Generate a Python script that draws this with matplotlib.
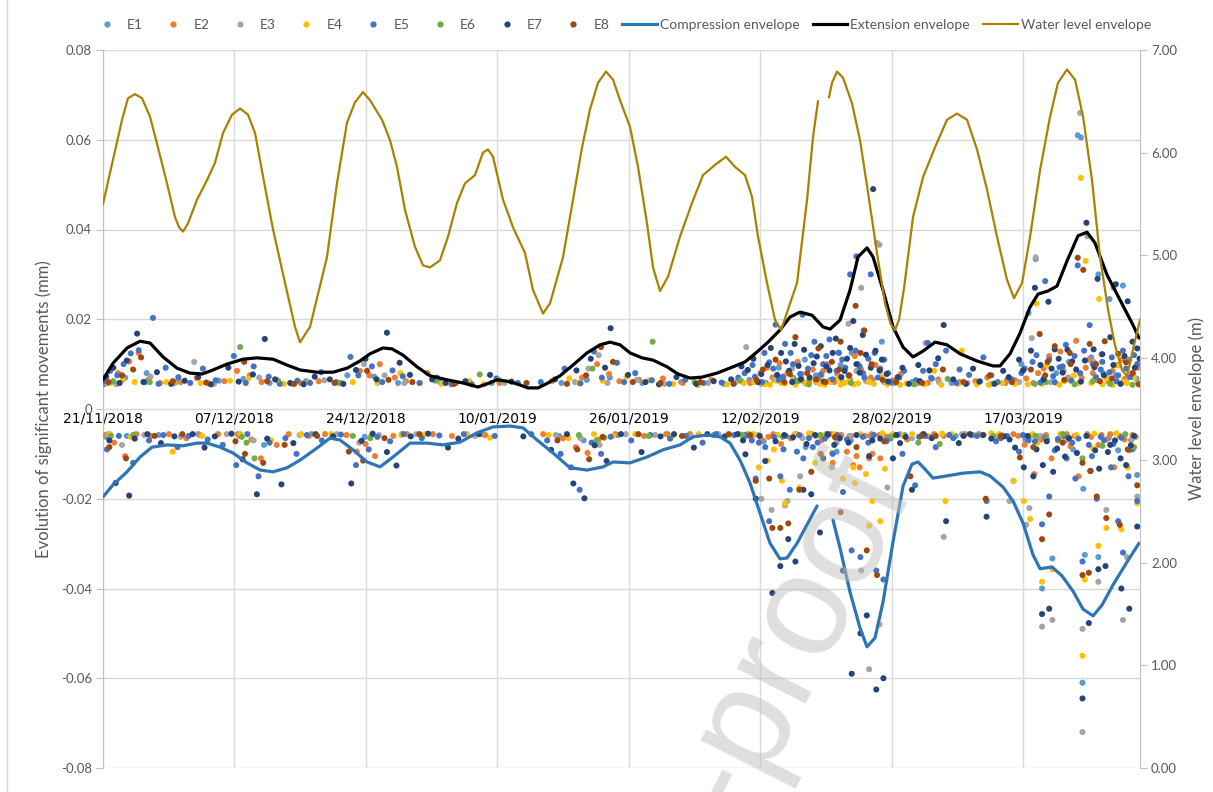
import numpy as np
import matplotlib
matplotlib.use('Agg')
import matplotlib.pyplot as plt
from matplotlib.lines import Line2D

nan = float('nan')

# ---------------- data (x = days since 21/11/2018) ----------------
date_labels = ['21/11/2018', '07/12/2018', '24/12/2018', '10/01/2019',
               '26/01/2019', '12/02/2019', '28/02/2019', '17/03/2019']
series_names = ['E1', 'E2', 'E3', 'E4', 'E5', 'E6', 'E7', 'E8']

E1_pts = [(0.1,.0055),(2.8,.0070),(5.5,.0080),(9.4,.0062),(14.6,.0063),(17.7,.0067),(21.0,.0058),(25.6,.0062),
          (30.8,.0075),(34.2,.0072),(37.2,.0058),(42.5,.0060),(49.0,.0058),(57.8,.0058),(61.0,.0065),(63.9,.0070),
          (68.0,.0058),(72.9,.0060),(78.3,.0056),(81.5,.0065),(83.6,.0058),(85.2,.0092),(87.0,.0070),(88.5,.0110),
          (89.9,.0075),(91.7,.0065),(93.0,.0098),(94.4,.0125),(95.9,.0175),(97.0,.0065),(98.2,.0150),(99.5,.0058),
          (102.0,.0060),(104.4,.0070),(107.0,.0058),(110.6,.0062),(114.0,.0065),(115.8,.0100),(116.7,.0214),
          (117.6,.0334),(118.6,.0068),(120.2,.0080),(121.8,.0105),(122.9,.0610),(123.3,.0605),(124.6,.0115),
          (125.5,.0300),(126.1,.0080),(126.9,.0245),(127.7,.0075),(128.6,.0275),(129.4,.0110),(130.3,.0068),
          (0.4,-.0062),(3.0,-.0060),(7.0,-.0058),(12.0,-.0056),(17.2,-.0060),(20.3,-.0080),(26.3,-.0056),
          (33.0,-.0062),(37.7,-.0056),(47.8,-.0056),(57.5,-.0060),(60.6,-.0070),(64.9,-.0058),(71.2,-.0056),
          (77.0,-.0058),(81.2,-.0060),(83.3,-.0072),(84.9,-.0058),(86.8,-.0065),(88.6,-.0085),(90.9,-.0060),
          (92.5,-.0095),(94.3,-.0070),(96.8,-.0060),(98.8,-.0062),(101.1,-.0058),(104.3,-.0062),(107.5,-.0060),
          (110.4,-.0056),(113.3,-.0058),(114.8,-.0160),(116.3,-.0068),(117.9,-.0070),(118.4,-.0400),
          (119.7,-.0333),(120.9,-.0062),(122.3,-.0090),(123.5,-.0610),(123.6,-.0178),(123.8,-.0325),
          (125.5,-.0330),(126.8,-.0065),(128.0,-.0092),(129.7,-.0068),(130.4,-.0147)]

E2_pts = [(0.6,.0058),(1.9,.0080),(3.3,.0106),(4.5,.0125),(5.7,.0065),(7.2,.0058),(9.8,.0060),(11.8,.0069),
          (13.3,.0057),(15.3,.0062),(16.9,.0085),(18.5,.0075),(20.0,.0060),(22.1,.0062),(24.9,.0058),(27.2,.0062),
          (29.7,.0058),(32.4,.0085),(33.6,.0075),(34.9,.0100),(36.8,.0070),(38.2,.0062),(40.9,.0080),(44.5,.0058),
          (50.0,.0058),(56.6,.0062),(60.4,.0070),(62.3,.0100),(63.8,.0078),(65.1,.0062),(67.6,.0065),(70.6,.0068),
          (73.1,.0058),(76.7,.0065),(80.5,.0062),(82.9,.0080),(84.4,.0070),(85.3,.0102),(86.3,.0080),(87.1,.0064),
          (88.1,.0078),(89.5,.0088),(90.3,.0065),(91.3,.0100),(92.2,.0060),(93.4,.0090),(94.8,.0118),(95.6,.0088),
          (96.8,.0070),(97.4,.0098),(98.6,.0062),(100.6,.0078),(102.8,.0058),(105.3,.0066),(108.0,.0060),
          (111.5,.0070),(113.8,.0058),(116.4,.0068),(117.9,.0080),(119.3,.0118),(120.7,.0128),(121.7,.0070),
          (122.7,.0152),(123.9,.0092),(124.8,.0080),(125.9,.0122),(126.8,.0060),(127.9,.0098),(128.8,.0067),
          (129.9,.0080),
          (81.6,.0058),(83.7,.0092),(85.8,.0070),(87.6,.0105),(89.0,.0062),(90.8,.0085),(92.6,.0078),(94.2,.0065),
          (95.2,.0100),(96.3,.0062),(98.0,.0085),(99.6,.0064),(104.0,.0058),(110.0,.0062),(115.0,.0064),
          (117.3,.0058),(118.6,.0090),(121.1,.0085),(123.4,.0070),(124.3,.0110),(125.4,.0064),(127.3,.0085),
          (128.5,.0110),(130.5,.0092),
          (0.3,-.0058),(1.4,-.0075),(2.8,-.0105),(4.2,-.0056),(6.0,-.0060),(8.3,-.0056),(10.5,-.0065),
          (12.2,-.0058),(14.5,-.0056),(17.0,-.0056),(18.7,-.0068),(19.9,-.0110),(21.9,-.0080),(23.4,-.0056),
          (25.9,-.0060),(28.0,-.0056),(30.7,-.0058),(32.0,-.0095),(33.1,-.0078),(34.3,-.0105),(36.6,-.0060),
          (38.3,-.0056),(41.6,-.0056),(44.0,-.0060),(48.2,-.0058),(55.5,-.0056),(58.0,-.0065),(59.6,-.0085),
          (61.1,-.0098),(62.5,-.0068),(64.6,-.0056),(68.2,-.0060),(71.0,-.0056),(74.0,-.0056),(77.6,-.0058),
          (80.7,-.0060),(82.0,-.0058),(83.0,-.0068),(84.5,-.0056),(85.5,-.0078),(86.7,-.0065),(88.0,-.0060),
          (89.4,-.0056),(90.6,-.0070),(91.8,-.0056),(92.0,-.0120),(92.8,-.0062),(93.8,-.0095),(94.6,-.0125),
          (95.0,-.0105),(95.4,-.0130),(96.1,-.0060),(96.6,-.0110),(97.0,-.0100),(97.9,-.0058),(98.0,-.0110),
          (99.0,-.0062),(101.4,-.0068),(103.5,-.0056),(106.0,-.0060),(108.7,-.0056),(110.8,-.0058),(113.0,-.0062),
          (114.8,-.0056),(116.2,-.0080),(117.4,-.0145),(118.3,-.0068),(119.6,-.0110),(120.8,-.0060),
          (122.0,-.0083),(123.0,-.0150),(124.1,-.0056),(125.5,-.0080),(126.5,-.0068),(127.5,-.0130),
          (128.2,-.0060),(129.4,-.0092),(130.2,-.0062),
          (81.3,-.0056),(83.9,-.0062),(85.0,-.0058),(87.4,-.0056),(89.9,-.0060),(91.2,-.0056),(93.1,-.0058),
          (94.3,-.0060),(96.9,-.0056),(99.5,-.0058),(104.8,-.0056),(109.6,-.0058),(115.4,-.0060),(117.0,-.0060),
          (118.9,-.0058),(120.4,-.0070),(121.5,-.0056),(122.5,-.0060),(124.6,-.0062),(125.9,-.0058),
          (127.0,-.0056),(128.8,-.0068),(129.8,-.0058)]

E3_pts = [(0.3,.0060),(1.7,.0055),(6.0,.0072),(9.1,.0058),(11.5,.0105),(14.0,.0056),(19.7,.0070),(23.8,.0056),
          (27.9,.0064),(32.9,.0100),(35.5,.0075),(38.0,.0058),(43.9,.0055),(50.6,.0058),(59.5,.0060),(61.2,.0090),
          (62.5,.0120),(63.6,.0058),(67.3,.0065),(70.8,.0056),(76.3,.0058),(79.8,.0060),(81.1,.0138),(83.0,.0056),
          (84.6,.0065),(85.8,.0058),(88.0,.0070),(89.9,.0060),(91.4,.0095),(92.7,.0126),(93.2,.0060),(94.0,.0190),
          (95.6,.0270),(96.2,.0063),(97.6,.0370),(97.9,.0366),(98.5,.0060),(99.8,.0058),(102.4,.0056),
          (103.7,.0147),(105.4,.0060),(109.0,.0058),(112.0,.0056),(115.5,.0060),(117.1,.0158),(117.6,.0338),
          (119.5,.0060),(121.8,.0066),(123.2,.0660),(124.1,.0385),(125.1,.0068),(126.5,.0075),(127.4,.0270),
          (128.9,.0062),(130.5,.0058),(86.9,.0090),(90.6,.0075),(95.0,.0085),(120.9,.0090),(124.9,.0105),
          (0.6,-.0056),(2.4,-.0080),(5.2,-.0058),(9.8,-.0062),(15.6,-.0056),(19.0,-.0070),(24.8,-.0058),
          (29.5,-.0056),(32.3,-.0075),(34.8,-.0058),(39.5,-.0056),(46.9,-.0060),(57.1,-.0058),(60.2,-.0065),
          (62.6,-.0080),(65.9,-.0056),(69.6,-.0058),(74.2,-.0062),(77.6,-.0056),(80.2,-.0056),(82.6,-.0058),
          (83.0,-.0200),(84.3,-.0225),(86.0,-.0215),(86.3,-.0205),(87.9,-.0150),(89.1,-.0060),(91.9,-.0130),
          (92.5,-.0075),(95.6,-.0360),(96.6,-.0580),(97.9,-.0480),(98.9,-.0175),(100.5,-.0056),(102.0,-.0065),
          (106.0,-.0285),(108.3,-.0056),(114.3,-.0205),(116.4,-.0258),(116.8,-.0221),(118.2,-.0060),
          (118.4,-.0485),(119.7,-.0470),(121.5,-.0070),(123.5,-.0720),(123.5,-.0490),(125.5,-.0385),
          (126.5,-.0225),(128.6,-.0470),(129.1,-.0330),(129.6,-.0070),(130.4,-.0195),(88.2,-.0065),(94.1,-.0060)]

E4_pts = [(1.0,.0058),(2.5,.0065),(4.0,.0060),(8.0,.0060),(12.3,.0058),(16.0,.0063),(18.3,.0068),(22.8,.0056),
          (26.0,.0060),(31.5,.0060),(34.6,.0058),(37.5,.0080),(40.0,.0058),(42.7,.0056),(46.2,.0062),(48.0,.0055),
          (58.8,.0068),(60.0,.0058),(63.0,.0063),(66.0,.0072),(68.9,.0064),(71.9,.0056),(75.0,.0053),(78.7,.0055),
          (80.8,.0058),(83.4,.0055),(84.9,.0063),(86.0,.0057),(87.0,.0065),(88.6,.0056),(89.8,.0062),(91.0,.0054),
          (92.6,.0068),(93.5,.0058),(94.7,.0055),(95.9,.0078),(97.2,.0056),(98.1,.0072),(101.3,.0057),
          (104.8,.0085),(105.7,.0054),(108.3,.0130),(110.2,.0055),(113.4,.0058),(116.6,.0055),(117.7,.0235),
          (119.0,.0097),(120.1,.0058),(121.2,.0062),(122.4,.0075),(123.3,.0515),(123.9,.0330),(124.6,.0058),
          (125.6,.0245),(126.5,.0068),(127.3,.0054),(128.1,.0097),(129.1,.0058),(130.0,.0070),
          (82.1,.0060),(84.1,.0054),(85.5,.0058),(87.3,.0054),(88.2,.0062),(90.4,.0056),(91.7,.0060),(93.0,.0054),
          (94.0,.0062),(95.2,.0057),(96.6,.0060),(98.9,.0055),(100.5,.0054),(103.6,.0055),(107.8,.0056),
          (111.7,.0054),(115.0,.0056),(118.4,.0056),(120.6,.0054),(123.0,.0058),(126.0,.0055),(128.6,.0060),
          (0.9,-.0056),(3.5,-.0062),(8.8,-.0095),(12.5,-.0060),(17.3,-.0056),(21.2,-.0070),(25.0,-.0056),
          (28.8,-.0056),(33.8,-.0060),(37.6,-.0058),(40.6,-.0056),(45.9,-.0056),(48.8,-.0064),(56.2,-.0058),
          (58.7,-.0065),(61.9,-.0056),(64.3,-.0060),(67.1,-.0056),(71.8,-.0060),(75.1,-.0056),(79.0,-.0058),
          (81.5,-.0056),(82.7,-.0130),(83.8,-.0115),(84.6,-.0090),(85.6,-.0160),(86.0,-.0210),(87.8,-.0175),
          (89.8,-.0120),(90.6,-.0058),(91.9,-.0098),(93.3,-.0155),(94.6,-.0130),(94.8,-.0165),(96.2,-.0145),
          (97.0,-.0205),(96.6,-.0260),(98.0,-.0250),(98.6,-.0133),(99.6,-.0056),(100.9,-.0060),(103.9,-.0060),
          (106.2,-.0205),(107.0,-.0056),(110.0,-.0058),(113.0,-.0056),(114.8,-.0160),(116.1,-.0205),
          (116.9,-.0245),(117.8,-.0075),(118.4,-.0385),(119.7,-.0357),(121.0,-.0065),(123.5,-.0550),
          (123.8,-.0380),(124.8,-.0088),(125.5,-.0305),(126.5,-.0265),(128.4,-.0268),(129.2,-.0130),
          (130.4,-.0210),
          (82.0,-.0056),(85.0,-.0058),(87.2,-.0056),(89.0,-.0054),(92.3,-.0056),(95.5,-.0056),(98.3,-.0054),
          (102.0,-.0056),(105.8,-.0055),(112.0,-.0054),(117.2,-.0056),(120.7,-.0056),(122.7,-.0058),
          (125.0,-.0055),(127.8,-.0054)]

E5_pts = [(0.2,.0062),(0.9,.0085),(1.8,.0075),(2.6,.0100),(3.5,.0124),(4.5,.0131),(5.3,.0060),(6.3,.0203),
          (7.0,.0056),(7.9,.0092),(9.5,.0071),(11.0,.0058),(12.6,.0090),(14.2,.0064),(16.5,.0118),(18.0,.0058),
          (19.0,.0095),(20.9,.0072),(22.3,.0056),(24.5,.0063),(26.1,.0058),(27.5,.0082),(29.4,.0060),(31.2,.0116),
          (32.2,.0075),(33.9,.0095),(35.2,.0060),(36.5,.0086),(37.8,.0073),(39.9,.0058),(42.1,.0070),(44.0,.0056),
          (46.5,.0055),(49.6,.0068),(52.3,.0058),(55.2,.0060),(58.2,.0090),(60.2,.0057),(61.9,.0128),(62.9,.0070),
          (64.8,.0103),(65.7,.0060),(67.1,.0080),(69.2,.0064),(71.4,.0056),(73.4,.0065),(75.7,.0058),(78.0,.0059),
          (80.1,.0070),(81.9,.0098),(83.1,.0060),(84.0,.0104),(84.8,.0188),(85.7,.0072),(86.7,.0125),(87.4,.0063),
          (88.2,.0210),(88.9,.0090),(89.7,.0150),(90.5,.0077),(91.2,.0118),(92.0,.0066),(92.8,.0125),(93.6,.0092),
          (94.2,.0300),(95.0,.0340),(95.8,.0080),(96.5,.0112),(96.8,.0300),(97.7,.0070),(98.5,.0110),(99.4,.0060),
          (101.0,.0085),(102.5,.0064),(104.0,.0147),(104.5,.0068),(106.3,.0130),(107.6,.0058),(109.2,.0076),
          (111.0,.0115),(112.8,.0060),(114.6,.0066),(115.8,.0080),(117.2,.0105),(118.2,.0059),(118.8,.0285),
          (119.8,.0073),(120.6,.0093),(121.4,.0143),(122.1,.0063),(122.9,.0320),(123.7,.0130),(124.4,.0187),
          (125.2,.0071),(126.0,.0105),(126.9,.0082),(127.8,.0062),(128.6,.0130),(129.5,.0071),(130.4,.0100),
          (80.9,.0080),(82.2,.0072),(83.4,.0125),(84.5,.0090),(85.2,.0065),(86.0,.0145),(87.0,.0100),(87.9,.0078),
          (89.3,.0120),(90.0,.0066),(90.8,.0100),(91.6,.0155),(92.5,.0085),(93.2,.0110),(94.0,.0075),(94.9,.0130),
          (95.4,.0095),(96.0,.0070),(97.3,.0125),(98.0,.0090),(99.0,.0080),(100.4,.0070),(103.4,.0085),
          (105.0,.0100),(108.0,.0088),(112.0,.0075),(116.2,.0090),(117.7,.0120),(119.3,.0110),(120.0,.0060),
          (121.0,.0095),(122.5,.0118),(123.2,.0080),(124.8,.0100),(125.8,.0088),(127.2,.0115),(128.0,.0075),
          (129.0,.0090),(130.0,.0120),
          (0.5,-.0090),(2.0,-.0060),(3.8,-.0120),(5.8,-.0070),(7.6,-.0058),(9.4,-.0085),(10.8,-.0060),
          (13.2,-.0068),(15.1,-.0080),(16.8,-.0125),(18.2,-.0056),(19.6,-.0150),(21.0,-.0075),(23.0,-.0065),
          (24.4,-.0100),(25.7,-.0058),(27.6,-.0070),(30.0,-.0057),(31.9,-.0125),(33.5,-.0090),(34.6,-.0062),
          (36.2,-.0072),(37.9,-.0056),(40.2,-.0065),(42.4,-.0059),(45.5,-.0056),(49.4,-.0060),(54.0,-.0056),
          (56.0,-.0070),(57.7,-.0100),(59.0,-.0130),(60.1,-.0180),(61.6,-.0075),(62.8,-.0100),(64.0,-.0062),
          (66.6,-.0070),(69.0,-.0058),(71.5,-.0066),(73.5,-.0060),(75.6,-.0075),(77.3,-.0056),(79.6,-.0058),
          (81.8,-.0070),(82.3,-.0155),(83.5,-.0085),(84.0,-.0250),(85.4,-.0150),(86.1,-.0060),(86.6,-.0180),
          (87.5,-.0095),(88.3,-.0110),(89.0,-.0065),(90.1,-.0075),(91.3,-.0060),(92.0,-.0100),(93.3,-.0185),
          (94.4,-.0315),(95.5,-.0330),(96.5,-.0075),(97.5,-.0360),(98.4,-.0380),(99.3,-.0065),(100.8,-.0100),
          (102.4,-.0170),(103.7,-.0060),(105.0,-.0085),(107.2,-.0065),(109.5,-.0058),(111.4,-.0205),
          (112.6,-.0072),(114.0,-.0060),(115.5,-.0095),(116.7,-.0070),(118.4,-.0257),(119.3,-.0195),
          (120.4,-.0067),(121.5,-.0110),(122.6,-.0155),(123.5,-.0340),(124.3,-.0080),(125.3,-.0200),
          (126.2,-.0070),(127.1,-.0130),(128.0,-.0250),(128.6,-.0320),(129.3,-.0150),(130.4,-.0205),
          (81.0,-.0058),(82.7,-.0075),(84.6,-.0062),(85.8,-.0090),(87.8,-.0058),(89.5,-.0085),(91.0,-.0066),
          (92.6,-.0058),(93.8,-.0068),(95.8,-.0062),(97.2,-.0058),(98.8,-.0072),(100.2,-.0058),(102.9,-.0062),
          (106.7,-.0058),(110.2,-.0060),(113.2,-.0065),(116.0,-.0058),(117.5,-.0072),(118.8,-.0064),
          (120.0,-.0092),(121.2,-.0060),(122.2,-.0075),(123.0,-.0066),(124.7,-.0105),(125.8,-.0062),
          (127.4,-.0078),(128.4,-.0064),(129.8,-.0090)]

E6_pts = [(1.3,.0062),(5.9,.0060),(17.3,.0138),(22.0,.0064),(30.0,.0058),(41.9,.0063),(47.5,.0077),(49.9,.0065),
          (61.7,.0090),(69.3,.0150),(74.6,.0060),(80.3,.0064),(87.6,.0062),(89.0,.0055),(94.3,.0058),(102.3,.0055),
          (106.5,.0067),(112.5,.0058),(117.5,.0056),(118.9,.0060),(122.5,.0055),(124.8,.0062),(127.0,.0056),
          (129.8,.0054),
          (1.0,-.0060),(3.8,-.0058),(17.5,-.0062),(18.1,-.0075),(19.1,-.0110),(31.5,-.0060),(33.7,-.0065),
          (60.0,-.0058),(62.2,-.0070),(63.2,-.0064),(68.8,-.0060),(80.6,-.0058),(85.7,-.0062),(90.4,-.0058),
          (99.4,-.0062),(102.8,-.0075),(105.5,-.0078),(112.3,-.0060),(117.6,-.0060),(119.0,-.0066),
          (121.0,-.0056),(123.5,-.0110),(126.0,-.0082),(128.9,-.0056),(130.0,-.0085)]

E7_pts = [(0.4,.0072),(1.3,.0092),(2.1,.0058),(3.0,.0108),(4.3,.0168),(5.1,.0060),(6.8,.0082),(8.6,.0056),
          (10.3,.0063),(12.0,.0071),(13.6,.0055),(15.8,.0092),(17.1,.0061),(18.9,.0077),(20.4,.0156),(21.7,.0066),
          (23.6,.0058),(25.3,.0055),(26.7,.0072),(28.6,.0066),(30.3,.0056),(31.9,.0087),(33.1,.0112),(34.5,.0066),
          (35.8,.0170),(37.4,.0103),(38.7,.0076),(41.5,.0066),(43.2,.0058),(45.7,.0062),(48.8,.0076),(51.5,.0061),
          (57.0,.0066),(59.7,.0086),(61.5,.0112),(63.3,.0092),(64.0,.0180),(66.2,.0076),(68.4,.0060),(70.1,.0055),
          (72.3,.0071),(74.8,.0056),(77.0,.0062),(79.2,.0066),(81.3,.0087),(82.6,.0060),(84.2,.0136),(85.0,.0076),
          (86.1,.0106),(86.9,.0060),(87.7,.0096),(88.4,.0132),(89.1,.0070),(90.0,.0117),(90.9,.0061),(91.6,.0086),
          (92.4,.0157),(93.1,.0071),(93.8,.0112),(94.6,.0196),(95.4,.0081),(96.2,.0121),(97.1,.0490),(97.9,.0086),
          (99.0,.0061),(100.2,.0071),(101.6,.0056),(103.0,.0062),(104.2,.0086),(106.0,.0187),(107.2,.0066),
          (108.8,.0056),(110.5,.0061),(112.4,.0056),(114.2,.0071),(116.0,.0086),(117.5,.0270),(118.6,.0066),
          (119.2,.0239),(120.0,.0133),(121.0,.0081),(122.2,.0106),(123.3,.0061),(124.0,.0415),(124.9,.0133),
          (125.4,.0290),(126.2,.0075),(127.0,.0160),(127.7,.0278),(128.3,.0056),(129.2,.0240),(130.1,.0092),
          (130.7,.0112),
          (80.5,.0095),(82.0,.0112),(83.0,.0078),(83.8,.0098),(85.5,.0125),(86.5,.0085),(87.2,.0145),(88.0,.0066),
          (89.6,.0102),(90.5,.0140),(91.2,.0095),(92.0,.0125),(93.5,.0085),(94.2,.0136),(95.0,.0100),(95.8,.0165),
          (96.8,.0092),(97.4,.0130),(98.2,.0110),(98.8,.0078),(100.8,.0092),(102.8,.0098),(105.3,.0113),
          (109.7,.0090),(113.5,.0085),(115.5,.0110),(117.0,.0130),(118.2,.0098),(119.6,.0090),(120.5,.0112),
          (121.6,.0132),(122.7,.0088),(123.8,.0108),(125.0,.0093),(126.0,.0122),(127.4,.0098),(128.8,.0118),
          (129.8,.0150),(130.4,.0135),
          (0.8,-.0070),(1.6,-.0165),(3.3,-.0193),(4.0,-.0066),(5.6,-.0056),(7.3,-.0076),(9.0,-.0061),
          (11.3,-.0056),(12.8,-.0086),(14.1,-.0061),(16.2,-.0055),(17.6,-.0112),(19.4,-.0190),(20.7,-.0066),
          (22.5,-.0168),(24.0,-.0076),(26.8,-.0056),(29.0,-.0061),(31.3,-.0166),(32.6,-.0071),(34.0,-.0055),
          (35.8,-.0096),(37.0,-.0126),(38.8,-.0061),(41.0,-.0055),(43.5,-.0086),(44.8,-.0066),(47.4,-.0056),
          (53.0,-.0061),(56.5,-.0091),(58.5,-.0056),(59.3,-.0166),(60.7,-.0199),(62.0,-.0081),(63.5,-.0116),
          (65.3,-.0056),(67.9,-.0096),(70.3,-.0061),(72.0,-.0056),(74.5,-.0086),(76.2,-.0056),(78.4,-.0061),
          (80.0,-.0056),(81.0,-.0101),(82.3,-.0200),(83.5,-.0116),(84.4,-.0410),(85.4,-.0350),(86.4,-.0290),
          (87.3,-.0340),(88.3,-.0180),(89.3,-.0190),(90.4,-.0275),(90.8,-.0110),(91.4,-.0056),(92.2,-.0080),
          (93.3,-.0360),(94.4,-.0590),(95.5,-.0500),(96.3,-.0460),(96.6,-.0105),(97.5,-.0625),(98.4,-.0600),
          (99.6,-.0110),(100.5,-.0076),(102.0,-.0180),(103.4,-.0056),(106.3,-.0250),(107.9,-.0076),
          (109.3,-.0056),(111.4,-.0240),(112.0,-.0066),(113.6,-.0061),(115.0,-.0086),(116.1,-.0130),
          (117.3,-.0150),(118.4,-.0457),(118.5,-.0125),(119.3,-.0445),(119.8,-.0140),(121.3,-.0106),
          (123.5,-.0645),(124.3,-.0477),(124.5,-.0138),(125.5,-.0357),(125.6,-.0133),(126.4,-.0350),
          (127.0,-.0080),(128.4,-.0400),(129.4,-.0445),(129.6,-.0081),(130.4,-.0262),
          (80.7,-.0070),(82.8,-.0060),(84.8,-.0072),(85.9,-.0058),(87.0,-.0063),(88.7,-.0078),(89.8,-.0058),
          (92.9,-.0065),(94.0,-.0075),(95.0,-.0058),(97.0,-.0070),(98.0,-.0066),(100.0,-.0058),(101.2,-.0062),
          (104.5,-.0065),(108.5,-.0060),(111.0,-.0058),(114.3,-.0068),(116.6,-.0060),(117.7,-.0090),
          (119.0,-.0072),(120.3,-.0088),(121.8,-.0065),(122.8,-.0098),(124.0,-.0060),(125.1,-.0092),
          (126.7,-.0096),(127.6,-.0070),(128.3,-.0110),(129.0,-.0125),(130.0,-.0060)]

E8_pts = [(0.7,.0060),(2.4,.0075),(3.8,.0088),(4.8,.0115),(8.8,.0062),(13.0,.0059),(17.8,.0105),(20.7,.0062),
          (24.1,.0056),(29.2,.0058),(33.3,.0085),(36.0,.0065),(39.0,.0060),(44.3,.0056),(53.4,.0058),(58.5,.0056),
          (60.9,.0075),(62.8,.0138),(64.3,.0105),(66.8,.0060),(70.3,.0058),(75.3,.0060),(79.5,.0056),(82.4,.0065),
          (84.8,.0110),(85.9,.0060),(86.6,.0078),(87.3,.0160),(88.8,.0080),(90.2,.0135),(91.1,.0060),(91.9,.0105),
          (93.0,.0150),(94.1,.0075),(94.9,.0230),(96.0,.0175),(96.9,.0100),(98.3,.0065),(100.0,.0060),
          (103.3,.0058),(105.9,.0088),(108.5,.0060),(111.8,.0075),(114.6,.0060),(117.0,.0088),(118.1,.0167),
          (119.1,.0105),(120.0,.0140),(121.2,.0065),(122.0,.0100),(122.9,.0337),(123.6,.0310),(124.4,.0145),
          (125.2,.0100),(126.3,.0151),(127.2,.0068),(128.0,.0123),(129.0,.0104),(129.8,.0080),(130.6,.0055),
          (83.2,.0088),(89.9,.0066),(92.8,.0088),(95.5,.0125),(118.8,.0075),(121.9,.0125),(125.7,.0062),
          (0.8,-.0085),(2.9,-.0110),(6.5,-.0060),(10.0,-.0056),(16.7,-.0072),(17.9,-.0100),(20.2,-.0120),
          (22.9,-.0080),(27.0,-.0060),(31.0,-.0095),(32.8,-.0115),(35.5,-.0065),(39.9,-.0056),(57.3,-.0070),
          (59.8,-.0090),(61.3,-.0112),(63.0,-.0062),(67.5,-.0056),(73.0,-.0060),(78.9,-.0056),(81.6,-.0058),
          (82.3,-.0160),(84.0,-.0155),(84.4,-.0265),(85.4,-.0265),(86.4,-.0255),(87.8,-.0180),(89.3,-.0140),
          (90.5,-.0100),(92.3,-.0063),(93.0,-.0230),(95.0,-.0085),(96.3,-.0315),(97.6,-.0370),(98.5,-.0072),
          (101.8,-.0150),(103.2,-.0060),(105.0,-.0060),(111.3,-.0200),(113.2,-.0060),(115.6,-.0108),
          (117.3,-.0085),(118.4,-.0290),(119.3,-.0235),(121.0,-.0075),(123.5,-.0370),(123.5,-.0120),
          (124.3,-.0365),(124.5,-.0138),(125.3,-.0195),(126.5,-.0243),(128.2,-.0258),(129.2,-.0090),
          (130.4,-.0170)]

comp_env = [(0,-.0196),(1.26,-.0169),(3.03,-.0140),(4.67,-.0107),(6.18,-.0085),(8.07,-.0080),(10.09,-.0082),
            (11.85,-.0076),(13.11,-.0076),(14.75,-.0085),(16.39,-.0098),(18.16,-.0120),(19.80,-.0136),
            (21.44,-.0140),(23.20,-.0131),(24.84,-.0114),(26.98,-.0087),(28.62,-.0065),(29.88,-.0069),
            (31.52,-.0091),(33.29,-.0118),(34.93,-.0129),(36.57,-.0107),(38.71,-.0076),(40.85,-.0076),
            (42.87,-.0080),(45.01,-.0074),(47.16,-.0053),(49.17,-.0040),(51.32,-.0038),(52.96,-.0042),
            (54.72,-.0069),(56.74,-.0098),(58.88,-.0131),(61.03,-.0136),(63.05,-.0129),(64.31,-.0118),
            (66.45,-.0120),(68.59,-.0107),(70.61,-.0091),(72.75,-.0080),(74.39,-.0062),(76.16,-.0058),
            (77.80,-.0062),(79.06,-.0076),(80.32,-.0114),(81.58,-.0165),(82.84,-.0232),(84.10,-.0299),
            (85.36,-.0334),(86.25,-.0332),(87.51,-.0299),(88.89,-.0254),(90.03,-.0216),(91.0,nan),
            (92.04,-.0247),(92.93,-.0310),(94.19,-.0408),(95.45,-.0488),(96.33,-.0530),(97.34,-.0510),
            (98.35,-.0430),(99.61,-.0296),(100.87,-.0172),(102.00,-.0123),(102.76,-.0118),(103.64,-.0134),
            (104.65,-.0154),(106.42,-.0149),(108.44,-.0143),(110.58,-.0140),(111.84,-.0149),(113.48,-.0174),
            (114.74,-.0205),(116.00,-.0254),(117.26,-.0325),(118.15,-.0356),(119.66,-.0352),(120.92,-.0372),
            (122.31,-.0406),(123.57,-.0446),(124.83,-.0461),(125.96,-.0437),(127.35,-.0392),(129.11,-.0341),
            (130.63,-.0299)]

ext_env = [(0,.0065),(1.26,.0102),(3.03,.0136),(4.67,.0151),(5.93,.0147),(7.57,.0116),(9.33,.0091),
           (10.97,.0080),(12.48,.0078),(13.87,.0087),(15.63,.0100),(17.65,.0111),(19.42,.0114),(21.44,.0111),
           (23.20,.0098),(24.84,.0087),(26.98,.0082),(29.00,.0082),(30.77,.0091),(32.40,.0107),(33.67,.0123),
           (35.30,.0136),(36.44,.0134),(37.83,.0120),(39.59,.0094),(41.23,.0074),(43.37,.0065),(45.39,.0058),
           (47.28,.0049),(48.42,.0056),(49.68,.0065),(50.94,.0062),(52.20,.0056),(53.59,.0047),(54.85,.0047),
           (56.11,.0058),(57.62,.0074),(59.26,.0098),(61.03,.0125),(62.67,.0143),(63.93,.0149),(65.19,.0143),
           (66.45,.0125),(67.96,.0114),(69.35,.0109),(71.11,.0094),(72.50,.0078),(74.01,.0069),(75.53,.0071),
           (77.42,.0080),(79.44,.0094),(80.95,.0105),(82.46,.0127),(83.85,.0149),(85.36,.0176),(86.62,.0205),
           (87.88,.0216),(89.40,.0209),(90.78,.0183),(91.67,.0178),(92.93,.0198),(94.19,.0265),(95.20,.0339),
           (96.33,.0359),(97.09,.0339),(98.35,.0265),(99.61,.0183),(100.87,.0138),(102.13,.0116),(103.39,.0129),
           (104.91,.0149),(106.42,.0143),(108.06,.0123),(110.20,.0107),(112.22,.0096),(113.10,.0096),
           (114.36,.0123),(115.62,.0169),(116.88,.0227),(117.89,.0256),(119.15,.0263),(120.29,.0274),
           (121.55,.0330),(122.94,.0386),(124.07,.0394),(125.08,.0370),(126.59,.0299),(128.23,.0243),
           (129.87,.0187),(130.63,.0158)]

water_env = [(0,5.50),(1.26,5.93),(2.40,6.32),(3.15,6.53),(4.03,6.57),(4.92,6.53),(5.93,6.35),(6.93,6.05),
             (8.07,5.70),(9.08,5.37),(9.60,5.27),(10.09,5.23),(10.72,5.31),(11.85,5.54),(13.11,5.73),(14.12,5.90),
             (15.13,6.19),(16.27,6.37),(17.28,6.43),(18.28,6.37),(19.17,6.19),(20.17,5.77),(21.44,5.25),
             (22.95,4.73),(24.21,4.30),(24.84,4.15),(26.10,4.30),(28.24,4.98),(29.50,5.70),(30.76,6.29),
             (31.77,6.49),(32.78,6.59),(33.67,6.51),(35.18,6.32),(36.19,6.12),(37.07,5.86),(38.08,5.44),
             (39.34,5.08),(40.35,4.90),(41.23,4.88),(42.49,4.95),(43.50,5.18),(44.64,5.51),(45.64,5.70),
             (46.90,5.78),(47.91,6.00),(48.54,6.03),(49.17,5.96),(50.44,5.54),(51.70,5.27),(53.21,5.02),
             (54.22,4.66),(55.48,4.43),(56.36,4.53),(58.00,4.98),(59.26,5.54),(60.40,6.05),(61.40,6.42),
             (62.41,6.68),(63.42,6.79),(64.31,6.71),(65.19,6.51),(66.45,6.25),(67.46,5.86),(68.59,5.31),
             (69.35,4.88),(70.23,4.65),(71.24,4.79),(72.75,5.18),(74.27,5.51),(75.65,5.78),(77.17,5.88),
             (78.55,5.96),(79.69,5.86),(80.95,5.78),(81.83,5.57),(82.59,5.18),(83.72,4.73),(84.73,4.37),
             (85.49,4.27),(86.37,4.47),(87.51,4.73),(88.77,5.54),(89.52,6.15),(90.15,6.50),(90.8,nan),
             (91.54,6.54),(91.92,6.68),(92.55,6.79),(93.30,6.73),(94.44,6.48),(95.45,6.12),(96.46,5.61),
             (97.59,5.02),(98.60,4.53),(99.30,4.33),(99.86,4.27),(100.37,4.37),(101.0,4.68),(102.13,5.37),
             (103.39,5.76),(104.90,6.05),(106.42,6.32),(107.68,6.38),(108.94,6.32),(110.20,6.03),(111.46,5.64),
             (112.72,5.18),(113.98,4.76),(114.87,4.58),(115.88,4.73),(116.89,5.18),(118.15,5.83),(119.41,6.35),
             (120.41,6.68),(121.55,6.81),(122.56,6.71),(123.57,6.35),(124.70,5.73),(125.71,4.98),(126.72,4.47),
             (127.60,4.12),(128.48,3.88),(129.12,3.82),(129.87,4.08),(130.75,4.37)]

# ---------------- styling ----------------
colors = ['#5B9BD5', '#ED7D31', '#A5A5A5', '#FFC000', '#4472C4', '#70AD47', '#264478', '#9E480E']
comp_color = '#2E75B6'
ext_color = '#000000'
water_color = '#A88200'
grid_color = '#D9D9D9'
text_gray = '#595959'
FONT = 'Lato'

W, H = 1213, 792
fig = plt.figure(figsize=(W / 100, H / 100), dpi=100)
L, R, T, B = 103, 1140, 50, 768
ax = fig.add_axes([L / W, 1 - B / H, (R - L) / W, (B - T) / H])
ax2 = ax.twinx()

all_pts = [E1_pts, E2_pts, E3_pts, E4_pts, E5_pts, E6_pts, E7_pts, E8_pts]
for name, pts, c in zip(series_names, all_pts, colors):
    xs, ys = zip(*pts)
    ax.scatter(xs, ys, s=19, color=c, edgecolors='none', zorder=3)

cx, cy = zip(*comp_env)
ax.plot(cx, cy, color=comp_color, lw=2.3, zorder=4, solid_capstyle='round', solid_joinstyle='round')
ex, ey = zip(*ext_env)
ax.plot(ex, ey, color=ext_color, lw=2.3, zorder=4, solid_capstyle='round', solid_joinstyle='round')
wx, wy = zip(*water_env)
ax2.plot(wx, wy, color=water_color, lw=1.6, zorder=4, solid_joinstyle='round')

xmax = 130.75
ax.set_xlim(0, xmax)
ax2.set_xlim(0, xmax)
ax.set_ylim(-0.08, 0.08)
ax2.set_ylim(0, 7)

tick_pos = np.linspace(0, 116, 8)
ax.set_xticks(tick_pos)
ax.set_xticklabels(date_labels, fontsize=11.3, color='black', family=FONT)
yt = [-0.08, -0.06, -0.04, -0.02, 0, 0.02, 0.04, 0.06, 0.08]
ax.set_yticks(yt)
ax.set_yticklabels(['-0.08', '-0.06', '-0.04', '-0.02', '0', '0.02', '0.04', '0.06', '0.08'],
                   fontsize=9.5, color=text_gray, family=FONT)
ax2.set_yticks(range(8))
ax2.set_yticklabels(['%.2f' % v for v in range(8)], fontsize=9.5, color=text_gray, family=FONT)

ax.grid(True, color=grid_color, lw=1.0, zorder=0)
ax.set_axisbelow(True)
for sp in ['top', 'right']:
    ax.spines[sp].set_visible(False)
ax.spines['left'].set_color('#BFBFBF')
ax.spines['bottom'].set_position(('data', 0))
ax.spines['bottom'].set_color(grid_color)
for sp in ['top', 'left', 'bottom']:
    ax2.spines[sp].set_visible(False)
ax2.spines['right'].set_color('#BFBFBF')

ax.tick_params(axis='x', length=0, pad=2)
ax.tick_params(axis='y', length=5, color='#BFBFBF', pad=3)
ax2.tick_params(axis='y', length=5, color='#BFBFBF', pad=3)

ax.set_ylabel('Evolution of significant movements (mm)', fontsize=12, color=text_gray, family=FONT, labelpad=6)
ax2.set_ylabel('Water level envelope (m)', fontsize=12, color=text_gray, family=FONT, labelpad=8)

# legend
handles = [Line2D([], [], ls='', marker='o', markersize=4.5, color=c, markeredgewidth=0) for c in colors]
handles += [Line2D([], [], color=comp_color, lw=2.3),
            Line2D([], [], color=ext_color, lw=2.3),
            Line2D([], [], color=water_color, lw=1.6)]
labels = series_names + ['Compression envelope', 'Extension envelope', 'Water level envelope']
fig.legend(handles, labels, loc='center', bbox_to_anchor=(620 / W, 1 - 25 / H), ncol=11, frameon=False,
           prop={'family': FONT, 'size': 10}, labelcolor=text_gray, handlelength=2.5,
           handletextpad=0.2, columnspacing=0.95, borderaxespad=0)

# chart border at left
fig.add_artist(Line2D([7 / W, 7 / W], [0, 1], transform=fig.transFigure, color='#D9D9D9', lw=1))

# watermark
fig.text(915 / W, 1 - 490 / H, 'Journal Pre-proof', rotation=63, rotation_mode='anchor',
         ha='right', va='baseline', fontsize=104, family='Liberation Sans', color='#BFBFBF',
         alpha=0.5, zorder=10)

fig.savefig('out.png', dpi=100)
